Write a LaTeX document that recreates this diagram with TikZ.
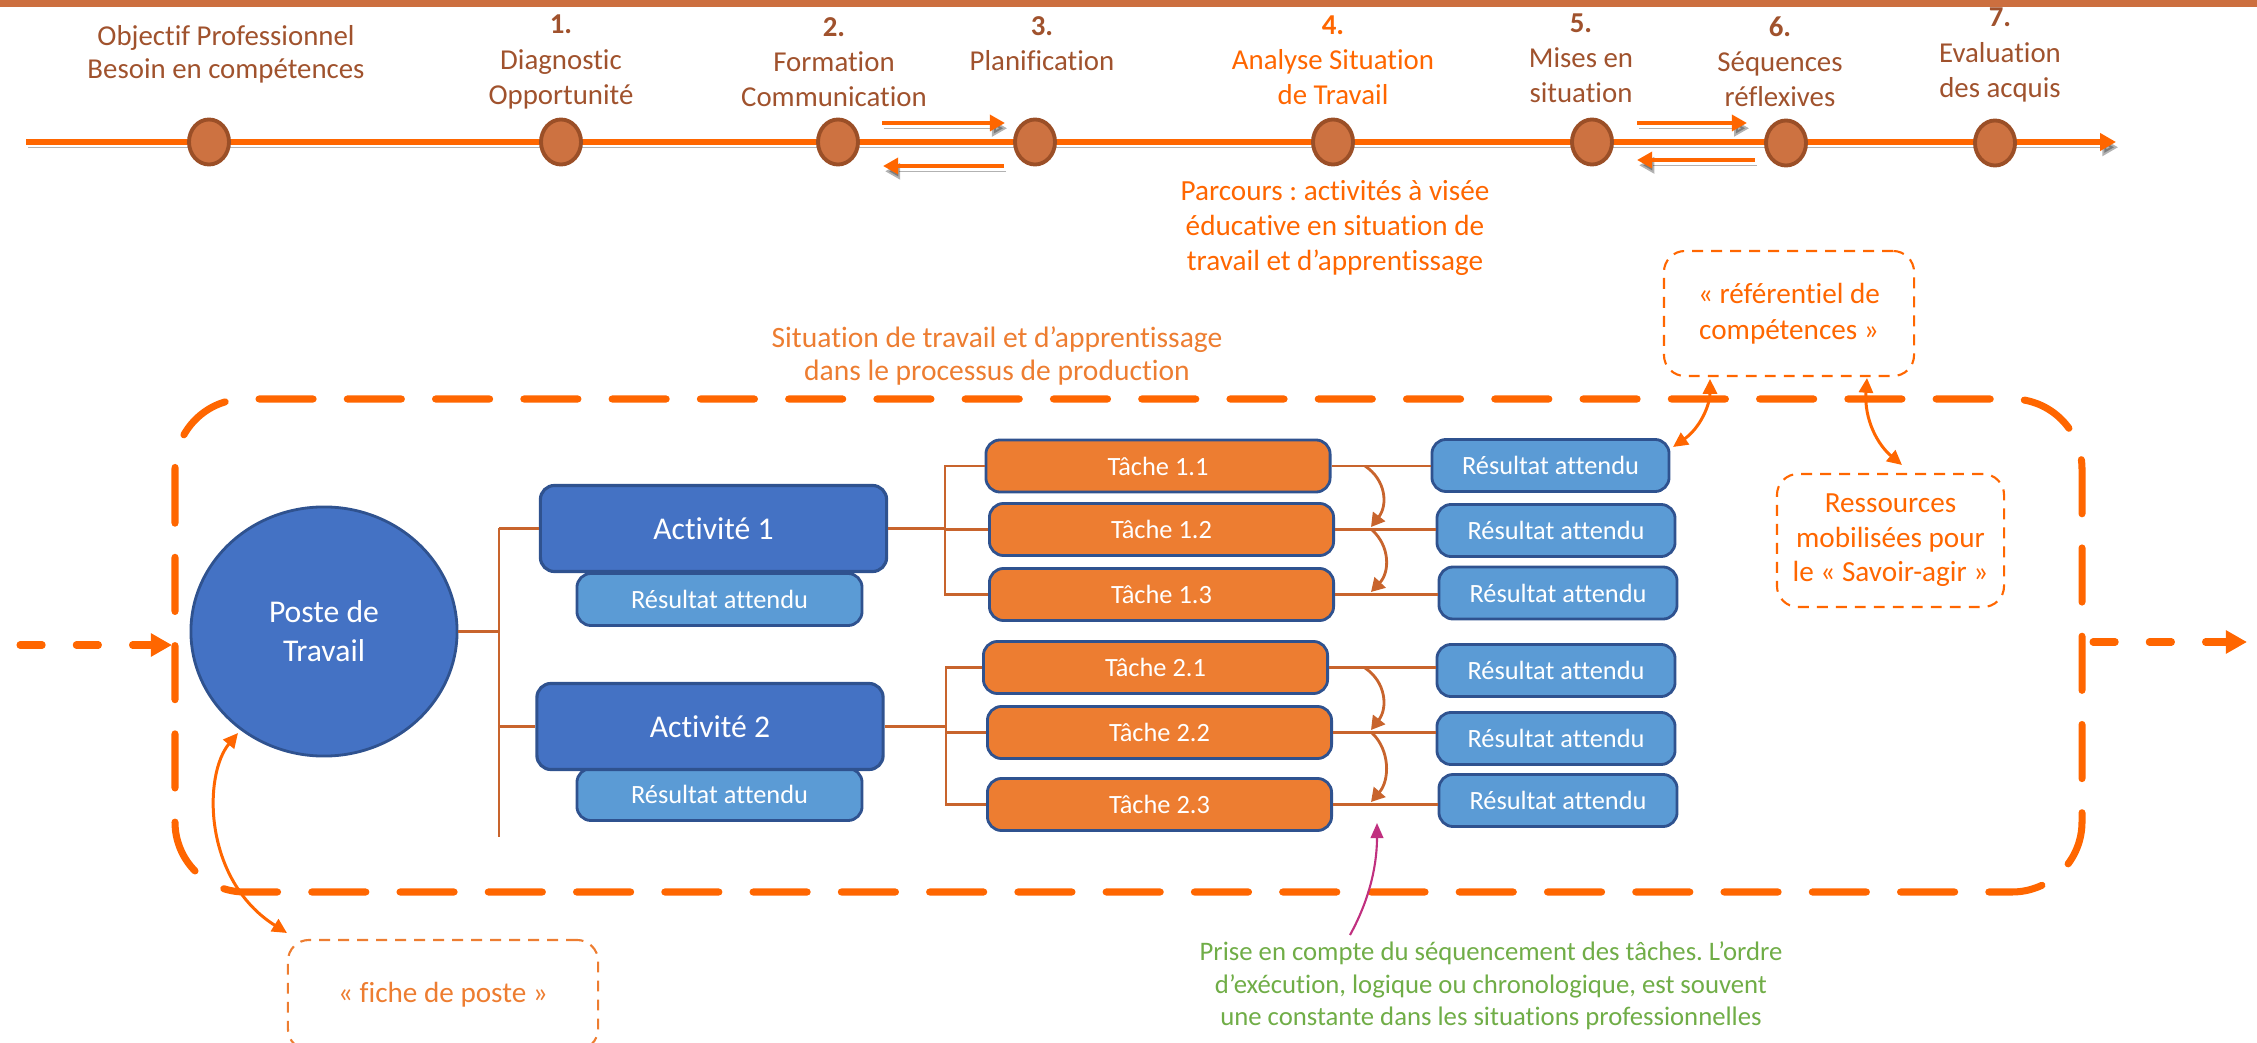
\documentclass[tikz,border=0pt]{standalone}
\usepackage{fontspec}
\setmainfont{Carlito}[Ligatures=NoCommon]
\usetikzlibrary{arrows.meta,shapes.geometric,calc}
\frenchspacing
\definecolor{brn}{HTML}{A0522D}
\definecolor{org}{HTML}{FF6600}
\definecolor{acc}{HTML}{ED7D31}
\definecolor{blu}{HTML}{4472C4}
\definecolor{lblu}{HTML}{5B9BD5}
\definecolor{bord}{HTML}{2F528F}
\definecolor{grn}{HTML}{70AD47}
\definecolor{mag}{HTML}{C0307F}
\definecolor{conn}{HTML}{C8642D}
\definecolor{band}{HTML}{CC6F3F}
\definecolor{dotfill}{HTML}{CD7241}
\definecolor{dotline}{HTML}{9B4F27}
\begin{document}
\begin{tikzpicture}[x=0.01cm,y=-0.01cm,
  lbl/.style={inner sep=0,align=center,font=\fontsize{8.2}{10}\selectfont,text=brn},
  dot/.style={ellipse,fill=dotfill,draw=dotline,line width=1.1pt,minimum width=0.40cm,minimum height=0.45cm,inner sep=0},
  shad/.style={preaction={draw=black,opacity=0.3,transform canvas={xshift=0.6pt,yshift=-1.5pt}}},
  tarr/.style={draw=org,line width=1.2pt,-{Triangle[length=4.3pt,width=4.5pt]},shad},
  actbox/.style={rounded corners=4pt,fill=blu,draw=bord,line width=0.9pt,text=white,font=\fontsize{9}{11}\selectfont,minimum width=3.46cm,minimum height=0.86cm,inner sep=0},
  resbox/.style={rounded corners=4pt,fill=lblu,draw=bord,line width=0.8pt,text=white,font=\fontsize{7.5}{9}\selectfont,minimum height=0.52cm,inner sep=0},
  taskbox/.style={rounded corners=4pt,fill=acc,draw=bord,line width=0.8pt,text=white,font=\fontsize{7.5}{9}\selectfont,minimum width=3.44cm,minimum height=0.52cm,inner sep=0},
  note/.style={inner sep=0,align=center,font=\fontsize{8.3}{10}\selectfont},
  dbox/.style={draw,dash pattern=on 3.1pt off 2.3pt,line width=0.6pt,rounded corners=6pt,inner sep=0,align=center,font=\fontsize{8.3}{10}\selectfont},
  conline/.style={draw=conn,line width=0.6pt},
  seqarr/.style={draw=conn,line width=0.8pt,-{Triangle[length=3.8pt,width=4.3pt]}},
  dblarr/.style={draw=org,line width=0.85pt,{Triangle[length=4.2pt,width=4pt]}-{Triangle[length=4.2pt,width=4pt]}},
  bigdash/.style={draw=org,line width=2pt,line cap=round,dash pattern=on 15.4pt off 9.7pt},
  dasharrow/.style={draw=org,line width=2pt,line cap=round,dash pattern=on 6.3pt off 9.7pt,-{Triangle[length=6pt,width=6.3pt]}}
]
\useasboundingbox (0,0) rectangle (2257,1043);
\fill[band] (0,0) rectangle (2257,7);

% timeline
\coordinate (tl0) at (26,142);
\coordinate (tl1) at (2116,142);
\draw[org,line width=1.5pt,-{Triangle[length=4.5pt,width=4.8pt]},shad] (tl0) -- (tl1);
\node[dot] (d0) at (209,142) {};
\node[dot] (d1) at (561,142) {};
\node[dot] (d2) at (838,142) {};
\node[dot] (d3) at (1035,142) {};
\node[dot] (d4) at (1333,142) {};
\node[dot] (d5) at (1592,142) {};
\node[dot] (d6) at (1786,143) {};
\node[dot] (d7) at (1995,143) {};

\coordinate (p23a) at (882,123); \coordinate (p23b) at (1005,123);
\coordinate (p32a) at (1004,166); \coordinate (p32b) at (883,166);
\coordinate (p56a) at (1637,123); \coordinate (p56b) at (1747,123);
\coordinate (p65a) at (1755,160); \coordinate (p65b) at (1637,160);
\draw[tarr] (p23a) -- (p23b);
\draw[tarr] (p32a) -- (p32b);
\draw[tarr] (p56a) -- (p56b);
\draw[tarr] (p65a) -- (p65b);

\node[lbl,font=\fontsize{8.2}{9.3}\selectfont] (s0) at (226,54) {Objectif Professionnel\\Besoin en compétences};
\node[lbl] (s1) at (561,62) {\textbf{1.}\\Diagnostic\\Opportunité};
\node[lbl] (s2) at (834,62) {\textbf{2.}\\Formation\\Communication};
\node[lbl] (s3) at (1042,44) {\textbf{3.}\\Planification};
\node[lbl,text=org] (s4) at (1333,60) {\textbf{4.}\\Analyse Situation\\de Travail};
\node[lbl] (s5) at (1581,58) {\textbf{5.}\\Mises en\\situation};
\node[lbl] (s6) at (1780,62) {\textbf{6.}\\Séquences\\réflexives};
\node[lbl] (s7) at (2000,55) {\textbf{7.}\\Evaluation\\des acquis};

\node[note,text=org] (parcours) at (1335,228) {Parcours : activités à visée\\éducative en situation de\\travail et d’apprentissage};
\node[note,text=acc,font=\fontsize{8.4}{9.4}\selectfont] (sit) at (997,356) {Situation de travail et d’apprentissage\\dans le processus de production};

% big dashed frame
\draw[bigdash,rounded corners=0.7cm] (175,399) rectangle (2082,892);
\coordinate (inS) at (20,645); \coordinate (inE) at (172,645);
\draw[dasharrow] (inS) -- (inE);
\coordinate (outS) at (2093,642); \coordinate (outE) at (2247,642);
\draw[dasharrow] (outS) -- (outE);

% dashed note boxes
\node[dbox,draw=org,text=org,minimum width=2.5cm,minimum height=1.25cm,font=\fontsize{8.3}{10.2}\selectfont] (ref) at (1789,313.5) {« référentiel de\\compétences »};
\node[dbox,draw=org,text=org,minimum width=2.27cm,minimum height=1.33cm,font=\fontsize{8.3}{9.8}\selectfont] (ress) at (1890.5,540.5) {Ressources\\mobilisées pour\\le « Savoir-agir »};
\node[dbox,draw=acc,text=acc,minimum width=3.1cm,minimum height=1.1cm] (fiche) at (443,995) {« fiche de poste »};

% poste and activities
\node[ellipse,fill=blu,draw=bord,line width=0.8pt,minimum width=2.66cm,minimum height=2.49cm,inner sep=0,text=white,align=center,font=\fontsize{9}{11.1}\selectfont] (poste) at (324,631.5) {Poste de\\Travail};
\node[resbox,minimum width=2.85cm] (ra1) at (719.5,599.5) {Résultat attendu};
\node[resbox,minimum width=2.85cm] (ra2) at (719.5,794.5) {Résultat attendu};
\node[actbox] (a1) at (713.5,528.5) {Activité 1};
\node[actbox] (a2) at (710,726.5) {Activité 2};

% tasks
\node[taskbox] (t11) at (1158,466) {Tâche 1.1};
\node[taskbox] (t12) at (1161.5,529.5) {Tâche 1.2};
\node[taskbox] (t13) at (1161.5,594.5) {Tâche 1.3};
\node[taskbox] (t21) at (1155.5,667.5) {Tâche 2.1};
\node[taskbox] (t22) at (1159.5,732.5) {Tâche 2.2};
\node[taskbox] (t23) at (1159.5,804.5) {Tâche 2.3};

% results
\node[resbox,minimum width=2.37cm] (r11) at (1550.5,465.5) {Résultat attendu};
\node[resbox,minimum width=2.38cm] (r12) at (1556,530.5) {Résultat attendu};
\node[resbox,minimum width=2.38cm] (r13) at (1558,593) {Résultat attendu};
\node[resbox,minimum width=2.38cm] (r21) at (1556,670.5) {Résultat attendu};
\node[resbox,minimum width=2.38cm] (r22) at (1556,738.5) {Résultat attendu};
\node[resbox,minimum width=2.38cm] (r23) at (1558,800.5) {Résultat attendu};

% connectors poste -> activities
\coordinate (vbot) at (499,837);
\draw[conline] (poste.east) -- (poste.east -| vbot);
\draw[conline] (a1.west -| vbot) -- (vbot);
\draw[conline] (a1.west -| vbot) -- (a1.west);
\draw[conline] (a2.west -| vbot) -- (a2.west);

% activities -> tasks
\coordinate (v1) at (945,0);
\coordinate (v2) at (946,0);
\draw[conline] (a1.east) -- (a1.east -| v1);
\draw[conline] (t11.west) -- (t11.west -| v1) -- (t13.west -| v1) -- (t13.west);
\draw[conline] (t12.west -| v1) -- (t12.west);
\draw[conline] (a2.east) -- (a2.east -| v2);
\draw[conline] (t21.west) -- (t21.west -| v2) -- (t23.west -| v2) -- (t23.west);
\draw[conline] (t22.west -| v2) -- (t22.west);

% tasks -> results
\foreach \t/\r in {t11/r11,t12/r12,t13/r13,t21/r21,t22/r22,t23/r23}
  \draw[conline] (\t.east) -- (\t.east -| \r.west);

% sequence arrows
\coordinate (q1a) at (1365,466); \coordinate (q1b) at (1371,527);
\coordinate (q2a) at (1372,530); \coordinate (q2b) at (1371,592);
\coordinate (q3a) at (1365,668); \coordinate (q3b) at (1371,730);
\coordinate (q4a) at (1372,733); \coordinate (q4b) at (1371,802);
\draw[seqarr] (q1a) .. controls (1386,480) and (1388,505) .. (q1b);
\draw[seqarr] (q2a) .. controls (1390,546) and (1390,572) .. (q2b);
\draw[seqarr] (q3a) .. controls (1386,682) and (1388,708) .. (q3b);
\draw[seqarr] (q4a) .. controls (1390,750) and (1390,780) .. (q4b);

% double arrows
\coordinate (da1) at (1673,447); \coordinate (da2) at (1710,379);
\draw[dblarr] (da1) .. controls (1700,428) and (1710,405) .. (da2);
\coordinate (db1) at (1867,378); \coordinate (db2) at (1902,465);
\draw[dblarr] (db1) .. controls (1864,420) and (1878,445) .. (db2);
\coordinate (dc1) at (238,733); \coordinate (dc2) at (287,933);
\draw[dblarr] (dc1) .. controls (203,775) and (203,880) .. (dc2);

% green note and magenta arrow
\node[note,text=grn,font=\fontsize{7.6}{9.25}\selectfont] (green) at (1491,986) {Prise en compte du séquencement des tâches. L’ordre\\d’exécution, logique ou chronologique, est souvent\\une constante dans les situations professionnelles};
\coordinate (gtail) at (1350,935); \coordinate (gtip) at (1377,823);
\draw[draw=mag,line width=0.6pt,-{Triangle[length=4.3pt,width=3.6pt]}] (gtail) .. controls (1372,895) and (1377,860) .. (gtip);
\end{tikzpicture}
\end{document}
